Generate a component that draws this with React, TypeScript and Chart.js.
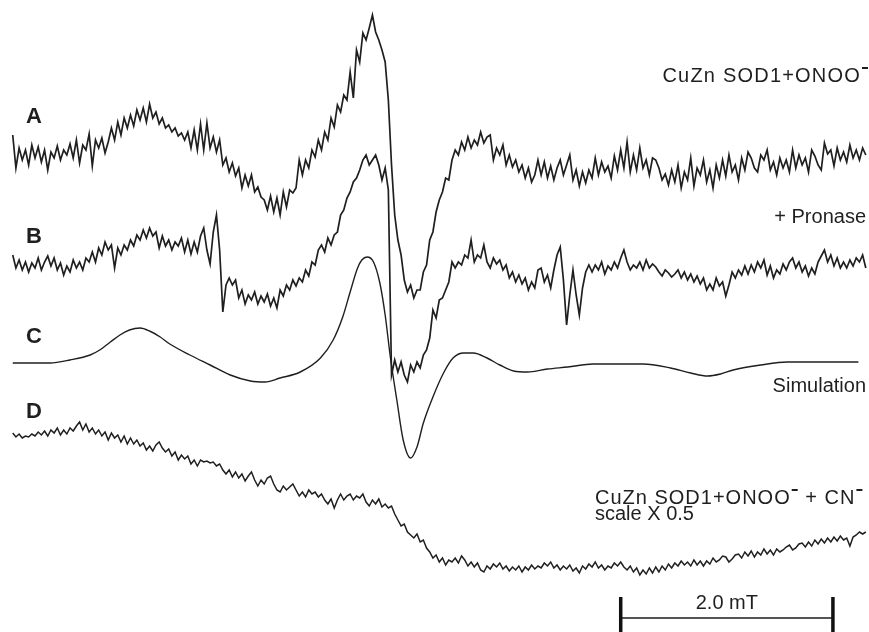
import React, { useEffect, useRef } from "react";
import { Chart, registerables } from "chart.js";

Chart.register(...registerables);

// Magnetic field axis (mT), sampled on a uniform grid
const FIELD_STEP = 0.03;
const FIELD_MIN = -0.12;
const FIELD_MAX = 8.07;
// Intensity axis (arbitrary units), traces stacked with offsets
const INTENSITY_MIN = 0;
const INTENSITY_MAX = 632;

const OFFSET_A = 472;
const OFFSET_B = 367;
const OFFSET_C = 269;
const OFFSET_D = 132;

// A: CuZn SOD1 + ONOO-
const TRACE_A = [
  25, -8, 12, 0, 10, -5, 15, 2, 13, -2,
  10, -10, 8, 2, 14, 0, 10, 5, 16, 2,
  20, -3, 15, 10, 26, -6, 20, 12, 22, 7,
  18, 32, 20, 38, 25, 42, 32, 45, 34, 50,
  40, 52, 38, 56, 42, 48, 36, 42, 32, 35,
  28, 32, 24, 27, 20, 28, 12, 30, 10, 36,
  10, 37, 12, 23, 8, 20, -5, 2, -12, -3,
  -16, -8, -28, -15, -26, -15, -32, -27, -37, -40,
  -50, -36, -52, -38, -55, -32, -47, -30, -33, -28,
  0, -15, 0, -8, 10, 3, 20, 10, 28, 20,
  42, 33, 55, 48, 65, 60, 88, 62, 110, 98,
  127, 120, 132, 145, 128, 120, 110, 98, 60, -5,
  -55, -80, -95, -120, -132, -125, -138, -130, -130, -112,
  -105, -80, -72, -52, -40, -32, -18, -20, 0, 10,
  5, 18, 10, 23, 12, 20, 15, 28, 17, 23,
  25, 0, 12, 5, 15, -5, 5, -7, 0, -12,
  -5, -18, -8, -22, -15, 0, -15, -2, -18, -6,
  -20, -8, 0, -15, -5, 5, -20, -10, -26, -12,
  -23, -10, -18, 2, -15, -2, -12, -6, -18, 4,
  -10, 10, -8, 18, -12, 5, -10, 12, -8, 0,
  -15, 2, 0, -8, -20, -14, -25, -10, -22, -5,
  -28, -12, -20, 2, -26, -8, -15, 0, -22, -10,
  -28, -5, -18, 0, -16, 5, -12, -5, -20, 2,
  -10, 8, 2, -8, -12, 5, 0, 10, -10, -2,
  -15, 2, -8, 0, -12, 10, -8, 5, -5, 2,
  -12, 10, 4, -5, -10, 17, 6, 10, -6, 12,
  0, 8, -2, 15, 2, 10, 0, 12, 5,
];

// B: + Pronase
const TRACE_B = [
  10, -3, 5, -5, 3, -7, 2, -3, 7, -5,
  3, 9, -1, 7, -5, 2, -10, -1, -7, 5,
  -3, 3, -5, 7, 3, 13, 3, 17, 10, 23,
  15, 20, -3, 17, 10, 20, 15, 25, 19, 30,
  25, 35, 27, 37, 29, 33, 17, 29, 19, 25,
  15, 23, 19, 27, 13, 25, 11, 23, 13, 29,
  37, 15, 1, 33, 50, 15, -47, -20, -13, -20,
  -15, -33, -25, -39, -30, -35, -27, -39, -31, -37,
  -29, -41, -33, -43, -25, -31, -20, -25, -15, -21,
  -13, -17, -5, -11, 3, 0, 15, 20, 13, 27,
  20, 30, 33, 50, 55, 67, 73, 83, 87, 95,
  105, 110, 100, 105, 110, 100, 85, 97, 75, -110,
  -95, -107, -97, -110, -117, -100, -107, -97, -103, -90,
  -85, -73, -45, -53, -35, -33, -25, -17, 3, -3,
  3, 0, 10, 7, 25, 3, 10, 7, 20, 3,
  -3, 7, 1, 5, -5, 0, -13, -7, -17, -10,
  -19, -13, -25, -17, -23, -5, -3, -17, -10, -23,
  -5, 10, 18, -15, -60, -30, -5, -30, -50, -23,
  -7, 0, -7, 0, -5, 3, -9, -1, -5, 3,
  -3, 7, 15, 3, -5, 0, -3, 3, -5, 5,
  -3, 1, -2, -7, -11, -5, -8, -12, -9, -5,
  -13, -7, -15, -9, -17, -11, -19, -13, -25, -19,
  -25, -13, -21, -17, -31, -20, -7, -13, -5, -10,
  -1, -9, 0, -7, 3, -3, 5, -10, -1, -13,
  -5, -9, 1, -5, 3, 7, -3, 3, -7, -1,
  -11, -3, -9, 3, 9, 15, 3, 10, -1, 7,
  -3, 3, -3, 5, -1, 7, 3, 10, -3,
];

// C: Simulation (smooth), sampled at selected fields
const SIM_FIELD = [
  0.0, 0.35, 0.54, 0.73, 0.82, 0.92, 1.01, 1.1, 1.2, 1.29,
  1.39, 1.48, 1.67, 1.86, 2.05, 2.24, 2.38, 2.52, 2.71, 2.9,
  3.02, 3.11, 3.18, 3.25, 3.29, 3.34, 3.4, 3.46, 3.51, 3.56,
  3.62, 3.68, 3.75, 3.81, 3.87, 3.96, 4.06, 4.15, 4.25, 4.34,
  4.47, 4.59, 4.72, 4.85, 5.04, 5.23, 5.47, 5.94, 6.2, 6.39,
  6.55, 6.67, 6.79, 7.05, 7.3, 7.97,
];
const SIM_C = [
  0, 0, 3, 8, 13, 21, 28, 33, 35, 32,
  26, 19, 8, -2, -12, -18, -19, -15, -9, 5,
  23, 46, 71, 95, 103, 106, 101, 80, 48, 5,
  -37, -77, -95, -84, -60, -34, -10, 5, 10, 10,
  5, -2, -8, -9, -6, -4, -1, -1, -5, -10,
  -13, -11, -7, -2, 1, 1,
];

// D: CuZn SOD1 + ONOO- + CN- (scale x 0.5)
const TRACE_D = [
  67, 63, 66, 62, 64, 63, 66, 64, 68, 65,
  69, 64, 70, 67, 72, 65, 70, 66, 72, 69,
  74, 78, 70, 76, 68, 72, 66, 70, 64, 68,
  60, 67, 62, 65, 58, 64, 56, 62, 56, 60,
  54, 57, 50, 54, 49, 55, 58, 52, 48, 51,
  44, 48, 40, 45, 41, 44, 36, 40, 34, 40,
  38, 39, 37, 38, 34, 36, 30, 26, 30, 23,
  28, 22, 26, 19, 24, 28, 20, 14, 20, 16,
  22, 24, 16, 10, 8, 14, 10, 13, 16, 10,
  4, 8, 3, 10, 6, 8, 3, 6, 0, -4,
  1, -8, 0, 6, 0, 4, 6, 0, 4, 2,
  6, -2, -6, 0, -4, 1, -7, -4, -8, -6,
  -14, -20, -26, -24, -32, -35, -38, -34, -42, -40,
  -48, -52, -58, -55, -62, -58, -65, -60, -62, -58,
  -63, -56, -60, -66, -62, -67, -63, -70, -72, -66,
  -69, -64, -67, -63, -69, -66, -71, -67, -70, -66,
  -72, -67, -70, -65, -69, -66, -68, -63, -66, -62,
  -68, -65, -70, -66, -69, -65, -71, -68, -73, -66,
  -69, -64, -67, -62, -68, -65, -70, -66, -68, -63,
  -66, -62, -67, -70, -66, -72, -68, -75, -70, -74,
  -68, -73, -67, -72, -66, -70, -64, -68, -63, -66,
  -61, -65, -62, -66, -60, -65, -61, -66, -61, -64,
  -58, -62, -60, -56, -57, -62, -59, -55, -54, -58,
  -52, -56, -51, -57, -52, -55, -49, -54, -50, -55,
  -49, -52, -50, -47, -45, -50, -48, -44, -43, -47,
  -42, -46, -40, -44, -39, -43, -38, -42, -37, -41,
  -36, -40, -38, -46, -37, -35, -32, -34, -32,
];

const TRACE_LETTERS = ["A", "B", "C", "D"];
const LABEL_A = "CuZn SOD1+ONOO⁻";
const LABEL_B = "+ Pronase";
const LABEL_C = "Simulation";
const LABEL_D1 = "CuZn SOD1+ONOO⁻ + CN⁻";
const LABEL_D2 = "scale X 0.5";
const SCALE_BAR_START = 5.73; // mT
const SCALE_BAR_LENGTH = 2.0; // mT
const SCALE_BAR_LABEL = "2.0 mT";

const INK = "#1f1f1f";
const FONT = '"Liberation Sans", Arial, Helvetica, sans-serif';

function gridPoints(values: number[], offset: number) {
  return values.map((v, i) => ({ x: i * FIELD_STEP, y: offset + v }));
}

function drawWithSup(
  ctx: CanvasRenderingContext2D,
  text: string,
  x: number,
  y: number,
  align: "left" | "right",
  spacing: number
) {
  const parts = text.split("⁻");
  const supW = 6;
  const gap = 1;
  const widthOf = (s: string) => {
    let w = 0;
    for (const ch of s) w += ctx.measureText(ch).width + spacing;
    return w;
  };
  let total = 0;
  parts.forEach((p, i) => {
    total += widthOf(p);
    if (i < parts.length - 1) total += supW + gap * 2;
  });
  let cx = align === "right" ? x - total : x;
  ctx.textAlign = "left";
  parts.forEach((p, i) => {
    for (const ch of p) {
      ctx.fillText(ch, cx, y);
      cx += ctx.measureText(ch).width + spacing;
    }
    if (i < parts.length - 1) {
      ctx.fillRect(cx + gap, y - 15, supW, 2);
      cx += supW + gap * 2;
    }
  });
}

const annotationPlugin = {
  id: "epr-annotations",
  afterDraw(chart: any) {
    const ctx: CanvasRenderingContext2D = chart.ctx;
    const xs = chart.scales.x;
    ctx.save();
    ctx.fillStyle = INK;
    ctx.textBaseline = "alphabetic";

    // trace letters
    ctx.font = `bold 22px ${FONT}`;
    const letterY = [123, 243, 343, 418];
    TRACE_LETTERS.forEach((t, i) => {
      ctx.textAlign = "left";
      ctx.fillText(t, 26, letterY[i]);
    });

    // right-side labels
    ctx.font = `20px ${FONT}`;
    drawWithSup(ctx, LABEL_A, 869, 82, "right", 1.2);
    ctx.textAlign = "right";
    ctx.fillText(LABEL_B, 866, 223);
    ctx.fillText(LABEL_C, 866, 392);
    drawWithSup(ctx, LABEL_D1, 595, 504, "left", 1.0);
    ctx.textAlign = "left";
    ctx.fillText(LABEL_D2, 595, 520);

    // scale bar
    const x1 = xs.getPixelForValue(SCALE_BAR_START);
    const x2 = xs.getPixelForValue(SCALE_BAR_START + SCALE_BAR_LENGTH);
    ctx.strokeStyle = "#555";
    ctx.lineWidth = 2;
    ctx.beginPath();
    ctx.moveTo(x1, 618);
    ctx.lineTo(x2, 618);
    ctx.stroke();
    ctx.strokeStyle = "#111";
    ctx.lineWidth = 3.5;
    ctx.beginPath();
    ctx.moveTo(x1, 597);
    ctx.lineTo(x1, 632);
    ctx.moveTo(x2, 597);
    ctx.lineTo(x2, 632);
    ctx.stroke();
    ctx.font = `20px ${FONT}`;
    ctx.textAlign = "center";
    ctx.fillText(SCALE_BAR_LABEL, (x1 + x2) / 2, 609);
    ctx.restore();
  },
};

export default function App() {
  const canvasRef = useRef<HTMLCanvasElement | null>(null);

  useEffect(() => {
    if (!canvasRef.current) return;
    const traceStyle = {
      borderColor: INK,
      borderWidth: 1.7,
      pointRadius: 0,
      fill: false,
      tension: 0,
    };
    const chart = new Chart(canvasRef.current, {
      type: "line",
      data: {
        datasets: [
          { label: "A", data: gridPoints(TRACE_A, OFFSET_A), ...traceStyle },
          { label: "B", data: gridPoints(TRACE_B, OFFSET_B), ...traceStyle },
          {
            label: "C",
            data: SIM_FIELD.map((f, i) => ({ x: f, y: OFFSET_C + SIM_C[i] })),
            ...traceStyle,
            borderWidth: 1.4,
            cubicInterpolationMode: "monotone",
          },
          { label: "D", data: gridPoints(TRACE_D, OFFSET_D), ...traceStyle, borderWidth: 1.5 },
        ],
      },
      options: {
        animation: false,
        responsive: false,
        maintainAspectRatio: false,
        layout: { padding: 0 },
        plugins: { legend: { display: false }, tooltip: { enabled: false } },
        scales: {
          x: { type: "linear", min: FIELD_MIN, max: FIELD_MAX, display: false },
          y: { type: "linear", min: INTENSITY_MIN, max: INTENSITY_MAX, display: false },
        },
      },
      plugins: [annotationPlugin],
    } as any);
    return () => chart.destroy();
  }, []);

  return (
    <div style={{ position: "absolute", left: 0, top: 0, width: 869, height: 632, background: "#fff" }}>
      <canvas ref={canvasRef} width={869} height={632} style={{ width: 869, height: 632, display: "block" }} />
    </div>
  );
}
